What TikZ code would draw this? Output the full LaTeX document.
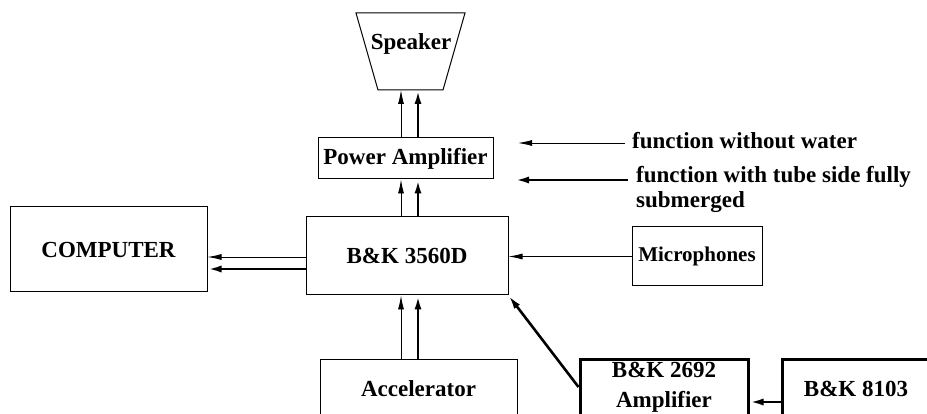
\documentclass[tikz,border=0pt]{standalone}
\usepackage{fontspec}
\setmainfont{Liberation Serif}
\usetikzlibrary{arrows.meta}
\begin{document}
\begin{tikzpicture}[x=1pt,y=-1pt,
  every node/.style={inner sep=0pt, font=\fontsize{23}{25}\selectfont\bfseries},
  box/.style={draw, line width=1pt},
  thickbox/.style={draw, line width=3pt},
  thinarr/.style={-{Latex[length=14pt,width=6pt]}, line width=0.9pt},
  thickarr/.style={-{Latex[length=14pt,width=7pt]}, line width=2.6pt}]
\useasboundingbox (0,0) rectangle (927,414);
\clip (0,0) rectangle (927,414);
% boxes
\node[box, minimum width=197pt, minimum height=85pt] (comp) at (108.5,249.5) {COMPUTER};
\node[box, minimum width=202pt, minimum height=78pt] (b3560) at (407,256) {B\&K 3560D};
\node[box, minimum width=175pt, minimum height=41pt] (pa) at (405.5,158.5) {Power Amplifier};
\node[box, minimum width=130pt, minimum height=59pt, font=\fontsize{21}{24}\selectfont\bfseries] (mic) at (697,256.5) {Microphones};
\node[box, minimum width=197pt, minimum height=60pt] (acc) at (418.5,389) {Accelerator};
\node[thickbox, minimum width=168pt, minimum height=56pt, align=center, font=\fontsize{23}{30}\selectfont\bfseries] (b2692) at (664,387) {B\&K 2692\\Amplifier};
\node[thickbox, minimum width=148pt, minimum height=60pt] (b8103) at (856,389) {B\&K 8103};
% speaker
\draw[line width=1pt] (356,13) -- (465,13) -- (443,90) -- (378,90) -- cycle;
\node (spk) at (411,44) {Speaker};
\coordinate (spkb) at (410,90);
% vertical arrows
\coordinate (xa) at (401,0);
\coordinate (xb) at (418,0);
\draw[thinarr] (xa |- pa.north) -- (xa |- spkb);
\draw[thickarr] (xb |- pa.north) -- (xb |- spkb);
\draw[thinarr] (xa |- b3560.north) -- (xa |- pa.south);
\draw[thickarr] (xb |- b3560.north) -- (xb |- pa.south);
\draw[thinarr] (xa |- acc.north) -- (xa |- b3560.south);
\draw[thickarr] (xb |- acc.north) -- (xb |- b3560.south);
% horizontal arrows
\coordinate (c1) at ([yshift=-1pt]b3560.west);
\coordinate (c2) at ([yshift=-13pt]b3560.west);
\draw[thinarr] (c1) -- (c1 -| comp.east);
\draw[thickarr] (c2) -- (c2 -| comp.east);
\draw[thinarr] (mic.west) -- (mic.west -| b3560.east);
\draw[thickarr] (b2692.west) -- (b3560.south east);
\coordinate (c3) at ([yshift=-13pt]b8103.west);
\draw[thickarr] (c3) -- (c3 -| b2692.east);
% legend
\coordinate (l1a) at (625,143);
\coordinate (l1b) at (518,143);
\draw[thinarr] (l1a) -- (l1b);
\node[anchor=west] (leg1) at (632,141) {function without water};
\coordinate (l2a) at (628,180);
\coordinate (l2b) at (515,180);
\draw[thickarr] (l2a) -- (l2b);
\node[anchor=west, align=left] (leg2) at (636,189.5) {function with tube side fully\\submerged};
\end{tikzpicture}
\end{document}
